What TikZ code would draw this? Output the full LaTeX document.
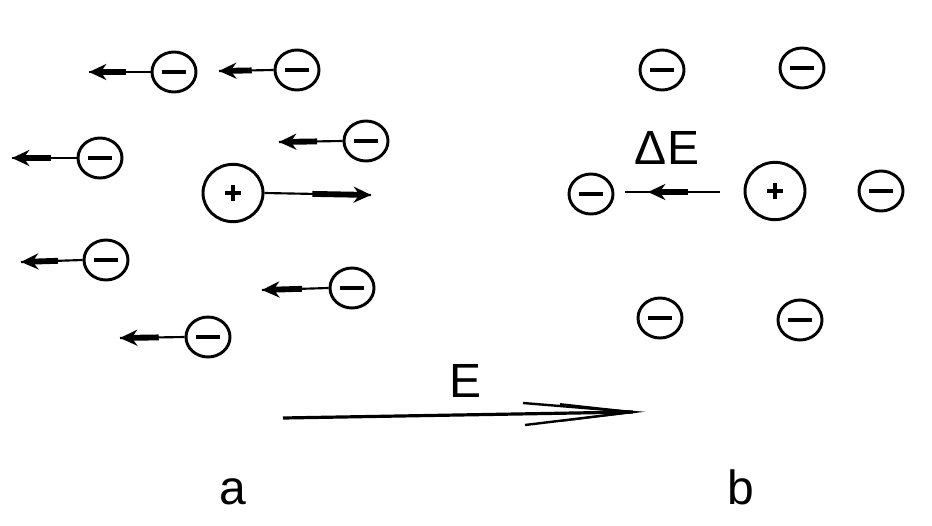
\documentclass[tikz,border=0pt]{standalone}
\usepackage{fontspec}
\setmainfont{Liberation Sans}
\usetikzlibrary{shapes.geometric,arrows.meta,calc}
\tikzset{
  chg/.style={ellipse, draw, line width=2.2pt, inner sep=0pt},
  negcharge/.style={chg, minimum width=33pt, minimum height=30pt,
    path picture={\draw[line width=2.8pt] ([xshift=-9pt]path picture bounding box.center) -- ([xshift=9pt]path picture bounding box.center);}},
  poscharge/.style={chg, minimum width=45pt, minimum height=43pt,
    path picture={\draw[line width=2.6pt] ([xshift=-6pt]path picture bounding box.center) -- ([xshift=6pt]path picture bounding box.center);
                  \draw[line width=2.6pt] ([yshift=-6pt]path picture bounding box.center) -- ([yshift=6pt]path picture bounding box.center);}},
  thinline/.style={line width=1.6pt},
  thickpart/.style={line width=4.4pt, -{Stealth[length=13pt,width=12pt]}},
  lbl/.style={font=\fontsize{36}{40}\selectfont, inner sep=0pt}
}
\newcommand{\chgarrow}[3]{% node, tip, fraction where thick starts
  \draw[thinline] (#1) -- (#2);
  \draw[thickpart] ($(#1)!#3!(#2)$) -- (#2);
}
\begin{document}
\begin{tikzpicture}[x=0.75pt,y=-0.75pt]
\useasboundingbox (0,0) rectangle (932,525);
% part a
\node[negcharge] (n1) at (174,72) {};
\node[negcharge] (n2) at (297,70) {};
\node[negcharge] (n3) at (366,141) {};
\node[negcharge] (n4) at (100,158) {};
\node[poscharge] (p1) at (233,193) {};
\node[negcharge] (n6) at (106,260) {};
\node[negcharge] (n7) at (352,288) {};
\node[negcharge] (n8) at (208,337) {};
\coordinate (t1) at (89,72);
\coordinate (t2) at (219,71);
\coordinate (t3) at (279,142);
\coordinate (t4) at (12,158);
\coordinate (tp) at (371,195);
\coordinate (t6) at (21,262);
\coordinate (t7) at (262,290);
\coordinate (t8) at (120,338);
\chgarrow{n1.west}{t1}{0.4}
\chgarrow{n2.west}{t2}{0.4}
\chgarrow{n3.west}{t3}{0.4}
\chgarrow{n4.west}{t4}{0.4}
\chgarrow{p1.east}{tp}{0.45}
\chgarrow{n6.west}{t6}{0.4}
\chgarrow{n7.west}{t7}{0.4}
\chgarrow{n8.west}{t8}{0.4}
% part b
\node[negcharge] (m1) at (662,70) {};
\node[negcharge] (m2) at (802,68) {};
\node[negcharge] (m3) at (591,194) {};
\node[poscharge] (p2) at (775,191) {};
\node[negcharge] (m4) at (881,191) {};
\node[negcharge] (m5) at (660,318) {};
\node[negcharge] (m6) at (800,320) {};
\node[lbl] (de) at (667,148) {ΔE};
\coordinate (da) at (720,192);
\coordinate (db) at (625,192);
\coordinate (dt) at (648,192);
\draw[thinline] (da) -- (db);
\draw[thickpart] (688,192) -- (dt);
% field
\coordinate (ea) at (283,418);
\coordinate (eb) at (633,412);
\draw[line width=2.4pt] (ea) -- (eb);
\draw[line width=1.8pt] (523,403) -- (eb) -- (525,425);
\draw[line width=1.4pt] (560,404) -- (eb);
\draw[line width=1.4pt] (560,421) -- (eb);
\node[lbl] (e) at (466,381) {E};
\node[lbl, anchor=base] (la) at (233,504) {a};
\node[lbl, anchor=base] (lb) at (741,504) {b};
\end{tikzpicture}
\end{document}
